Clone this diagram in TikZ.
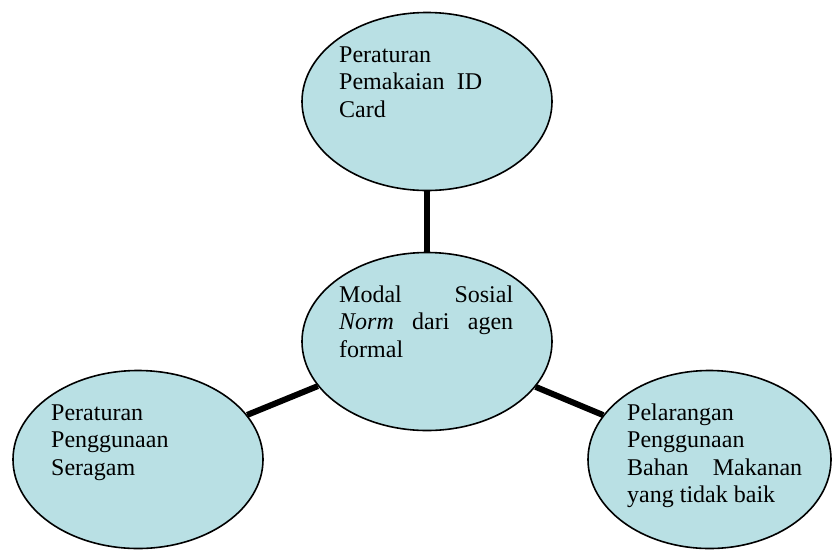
\documentclass[tikz,border=0pt]{standalone}
\usepackage{fontspec}
\setmainfont{Liberation Serif}
\usetikzlibrary{shapes.geometric}
\definecolor{bubble}{RGB}{185,224,228}
\begin{document}
\begin{tikzpicture}[x=1pt,y=-1pt,
  bubble/.style={ellipse,draw=black,line width=1.6pt,fill=bubble,inner sep=0pt,minimum width=250pt,minimum height=178pt},
  label/.style={anchor=base west,inner sep=0pt,align=left,font=\fontsize{24}{27.6}\selectfont},
  link/.style={line width=6pt}]
\useasboundingbox (0,0) rectangle (832,550);
\node[bubble] (top) at (427,101.5) {};
\node[bubble] (mid) at (427,341.5) {};
\node[bubble] (left) at (138,459.5) {};
\node[bubble,minimum width=243pt] (right) at (709.5,459.5) {};
\draw[link] (top) -- (mid);
\draw[link] (mid) -- (left);
\draw[link] (mid) -- (right);
% anchors sit on the baseline of the last line
\node[label] (ttop) at (339,117.2) {Peraturan\\\makebox[143pt][s]{Pemakaian ID}\\Card};
\node[label] (tmid) at (339,357.2) {\makebox[174pt][s]{Modal Sosial}\\\makebox[174pt][s]{\textit{Norm} dari agen}\\formal};
\node[label] (tleft) at (51,475.2) {Peraturan\\Penggunaan\\Seragam};
\node[label] (tright) at (627,502.8) {Pelarangan\\Penggunaan\\\makebox[175pt][s]{Bahan Makanan}\\yang tidak baik};
\end{tikzpicture}
\end{document}
